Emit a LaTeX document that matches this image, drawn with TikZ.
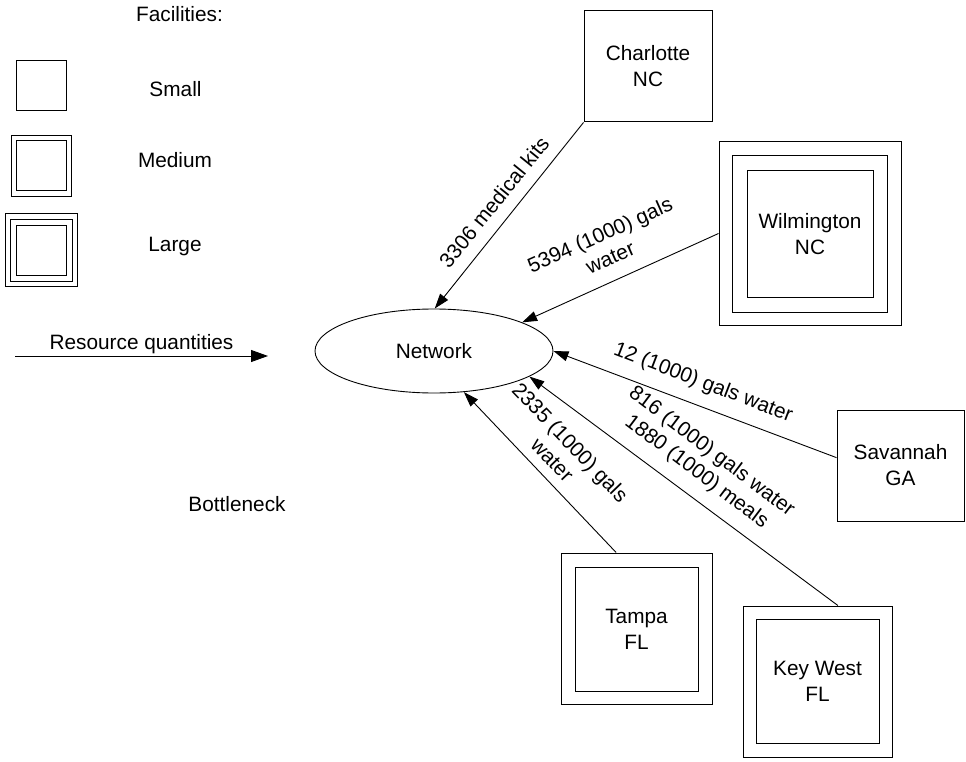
\documentclass[tikz,border=0pt]{standalone}
\usepackage{fontspec}
\setmainfont{Liberation Sans}
\usetikzlibrary{arrows.meta,shapes.geometric}
\begin{document}
\begin{tikzpicture}[x=1pt,y=-1pt,
  lbl/.style={font=\fontsize{20.8}{25}\selectfont, inner sep=0pt, align=center},
  fbox/.style={draw, line width=1pt, rectangle, inner sep=0pt, font=\fontsize{20.8}{26}\selectfont, align=center},
  conn/.style={line width=0.9pt, -{Triangle[length=15pt,width=10pt]}}]
\useasboundingbox (0,0) rectangle (966,762);
% legend
\node[lbl, anchor=base] (tfac) at (179.5,22) {Facilities:};
\node[fbox, minimum width=50pt, minimum height=50pt] (ls) at (41,86) {};
\node[lbl, anchor=base] (tsmall) at (175.5,96.5) {Small};
\node[fbox, minimum width=60pt, minimum height=61pt] (lmo) at (41,166.5) {};
\node[fbox, minimum width=50pt, minimum height=50pt] (lmi) at (41,166) {};
\node[lbl, anchor=base] (tmed) at (175,168) {Medium};
\node[fbox, minimum width=72pt, minimum height=72pt] (llo) at (41,250) {};
\node[fbox, minimum width=62pt, minimum height=62pt] (llm) at (41,250) {};
\node[fbox, minimum width=50pt, minimum height=50pt] (lli) at (41,250) {};
\node[lbl, anchor=base] (tlarge) at (175,251.5) {Large};
\coordinate (rqa) at (15,356);
\coordinate (rqb) at (268,356);
\draw[line width=0.9pt, -{Triangle[length=17pt,width=12pt]}] (rqa) -- node[lbl, above, inner sep=1.5pt] (rqt) {Resource quantities} (rqb);
\node[lbl, anchor=base] (tbott) at (237,511.5) {Bottleneck};
% network
\node[draw, ellipse, line width=0.9pt, minimum width=238pt, minimum height=84pt, inner sep=0pt, font=\fontsize{20.8}{25}\selectfont] (net) at (434,351) {Network};
% facilities
\node[fbox, minimum width=128pt, minimum height=111pt] (cha) at (648,66.5) {Charlotte\\NC};
\node[fbox, minimum width=182pt, minimum height=183pt] (wilo) at (810,233.5) {};
\node[fbox, minimum width=155pt, minimum height=156pt] (wilm) at (809.5,234) {};
\node[fbox, minimum width=126pt, minimum height=126pt] (wil) at (810,234) {Wilmington\\NC};
\node[fbox, minimum width=127pt, minimum height=111pt] (sav) at (900.5,465.5) {Savannah\\GA};
\node[fbox, minimum width=151pt, minimum height=151pt] (tamo) at (636.5,628.5) {};
\node[fbox, minimum width=123pt, minimum height=124pt] (tam) at (636.5,629) {Tampa\\FL};
\node[fbox, minimum width=149pt, minimum height=151pt] (kwo) at (817.5,681.5) {};
\node[fbox, minimum width=123pt, minimum height=124pt] (kw) at (817.5,681) {Key West\\FL};
% connectors
\draw[conn] (cha.south west) -- (net.89);
\draw[conn] (wilo.west) -- (net.18.6);
\draw[conn] (sav.173) -- (net.east);
\draw[conn] (kwo.75.5) -- (net.-15);
\draw[conn] (tamo.105) -- (net.-54);
% labels
\node[lbl, rotate=51] (lcha) at (494,202) {3306 medical kits};
\node[lbl, rotate=24] (lwil) at (605,246) {5394 (1000) gals\\water};
\node[lbl, rotate=-21] (lsav) at (703,383) {12 (1000) gals water};
\node[lbl, rotate=-37] (lkw) at (704,462) {816 (1000) gals water\\1880 (1000) meals};
\node[lbl, rotate=-46] (ltam) at (561.5,451) {2335 (1000) gals\\water};
\end{tikzpicture}
\end{document}
